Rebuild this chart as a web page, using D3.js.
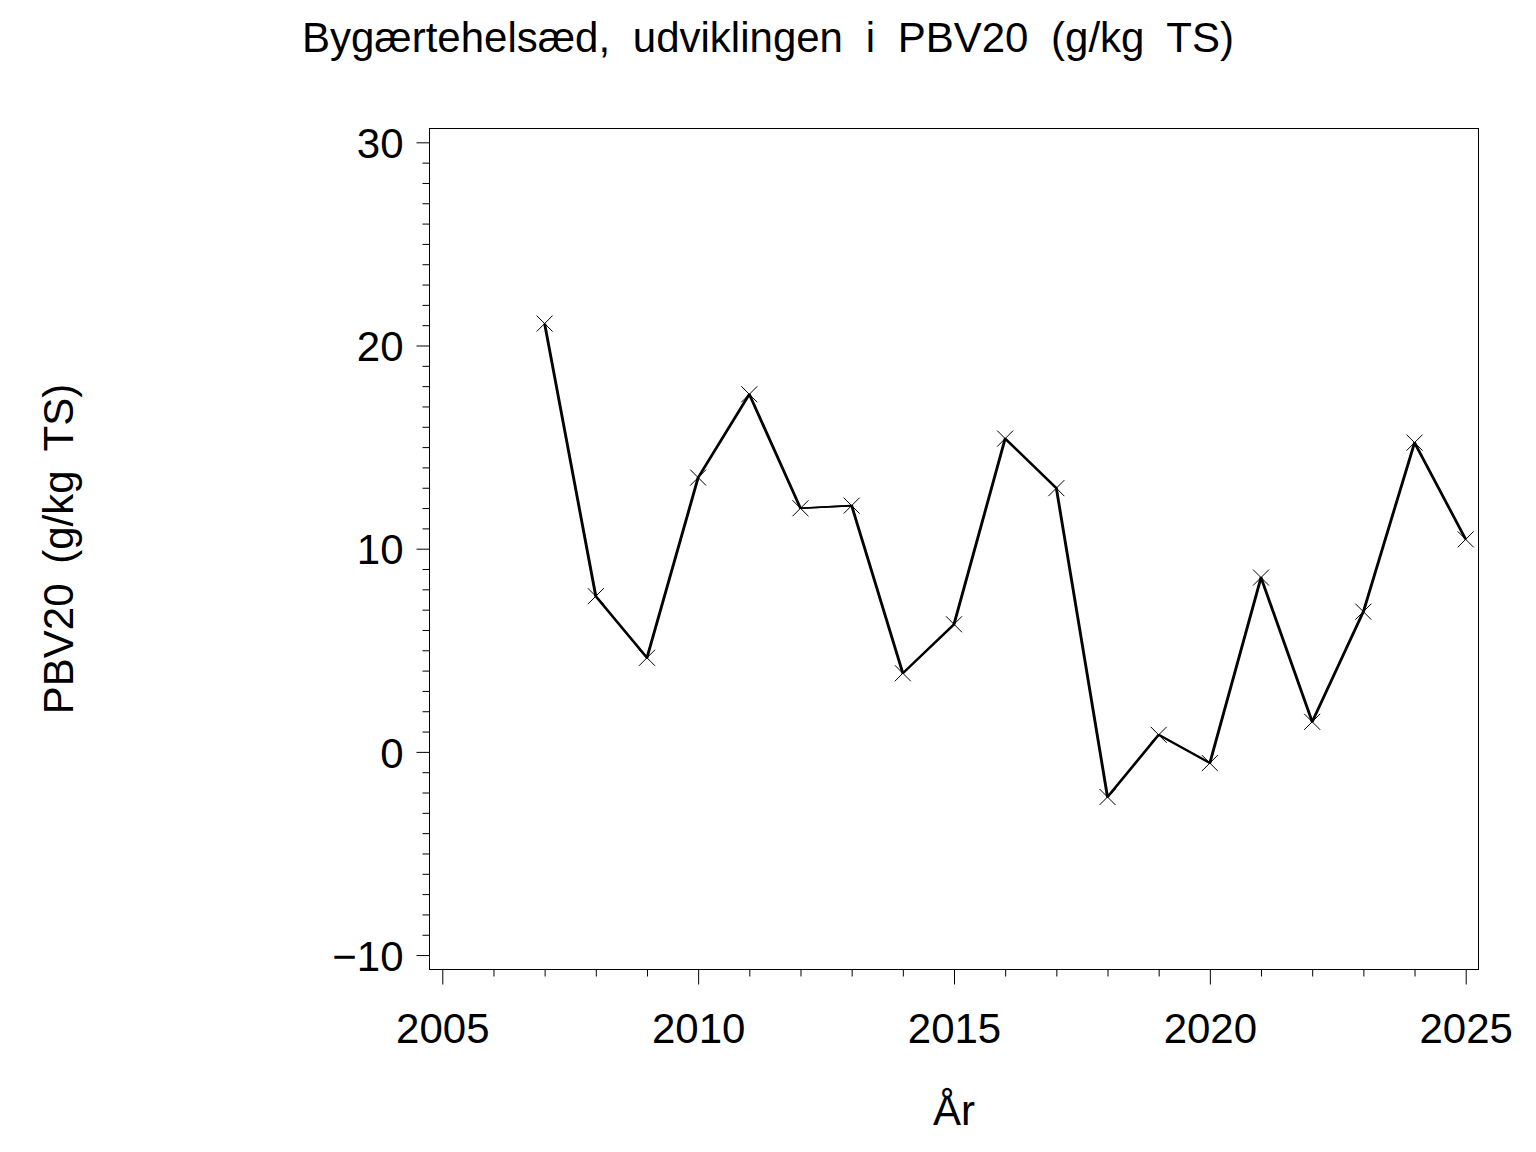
<!DOCTYPE html>
<html>
<head>
<meta charset="utf-8">
<script src="https://cdn.jsdelivr.net/npm/d3@7"></script>
<style>
  html, body { margin: 0; padding: 0; background: #fff; }
  svg { display: block; }
  text { font-family: "Liberation Sans", Arial, Helvetica, sans-serif; fill: #000; }
</style>
</head>
<body>
<script>
// ---- data ----
const years = [2007, 2008, 2009, 2010, 2011, 2012, 2013, 2014, 2015, 2016,
               2017, 2018, 2019, 2020, 2021, 2022, 2023, 2024, 2025];
const pbv20 = [21.08, 7.66, 4.63, 13.5, 17.6, 11.99, 12.12, 3.87, 6.28, 15.42,
               12.98, -2.22, 0.84, -0.55, 8.58, 1.48, 6.9, 15.22, 10.46];
const xMajorTicks = [2005, 2010, 2015, 2020, 2025];
const yMajorTicks = [-10, 0, 10, 20, 30];
const titleText = "Bygærtehelsæd, udviklingen i PBV20 (g/kg TS)";
const xLabel = "År";
const yLabel = "PBV20 (g/kg TS)";

(function () {
// ---- layout ----
const W = 1536, H = 1152;
const pL = 429.5, pR = 1478.5, pT = 128.5, pB = 969.5;

const svg = d3.select("body").append("svg")
  .attr("width", W).attr("height", H);

const x = d3.scaleLinear().domain([2004.75, 2025.25]).range([pL, pR]);
const y = d3.scaleLinear().domain([-10.71, 30.68]).range([pB, pT]);

// frame
svg.append("rect")
  .attr("x", pL).attr("y", pT)
  .attr("width", pR - pL).attr("height", pB - pT)
  .attr("fill", "none").attr("stroke", "#000").attr("stroke-width", 1);

// y axis ticks
const yMinor = d3.range(-10, 31, 1).filter(v => !yMajorTicks.includes(v));
const yAxisMinor = d3.axisLeft(y).tickValues(yMinor).tickSize(7).tickFormat("");
const yAxisMajor = d3.axisLeft(y).tickValues(yMajorTicks).tickSize(13).tickPadding(13)
  .tickFormat(d => d < 0 ? "\u2212" + Math.abs(d) : String(d));
const gyMinor = svg.append("g").attr("transform", `translate(${pL},0)`).call(yAxisMinor);
const gyMajor = svg.append("g").attr("transform", `translate(${pL},0)`).call(yAxisMajor);
[gyMinor, gyMajor].forEach(g => {
  g.select(".domain").remove();
  g.selectAll("line").attr("stroke", "#000").attr("stroke-width", 1);
});
gyMajor.selectAll("text")
  .attr("font-size", 42).attr("dy", "0.36em").attr("x", -26)
  .style("font-family", "'Liberation Sans', Arial, sans-serif");

// x axis ticks
const xMinor = d3.range(2005, 2026, 1).filter(v => !xMajorTicks.includes(v));
const xAxisMinor = d3.axisBottom(x).tickValues(xMinor).tickSize(7).tickFormat("");
const xAxisMajor = d3.axisBottom(x).tickValues(xMajorTicks).tickSize(15).tickFormat(d3.format("d"));
const gxMinor = svg.append("g").attr("transform", `translate(0,${pB})`).call(xAxisMinor);
const gxMajor = svg.append("g").attr("transform", `translate(0,${pB})`).call(xAxisMajor);
[gxMinor, gxMajor].forEach(g => {
  g.select(".domain").remove();
  g.selectAll("line").attr("stroke", "#000").attr("stroke-width", 1);
});
gxMajor.selectAll("text")
  .attr("font-size", 42).attr("y", 73).attr("dy", 0)
  .style("font-family", "'Liberation Sans', Arial, sans-serif");

// line (drawn twice, offset horizontally by 1px to imitate a horizontal pen)
const pts = years.map((yr, i) => [yr, pbv20[i]]);
const line = d3.line().x(d => x(d[0])).y(d => y(d[1]));
[0, 1.2].forEach(off => {
  svg.append("path")
    .datum(pts)
    .attr("transform", `translate(${off - 0.6},0)`)
    .attr("d", line)
    .attr("fill", "none")
    .attr("stroke", "#000")
    .attr("stroke-width", 1.7)
    .attr("stroke-linejoin", "round");
});

// x markers
const m = 8;
const mk = svg.append("g");
pts.forEach(d => {
  const cx = x(d[0]), cy = y(d[1]);
  mk.append("path")
    .attr("d", `M${cx - m},${cy - m}L${cx + m},${cy + m}M${cx - m},${cy + m}L${cx + m},${cy - m}`)
    .attr("stroke", "#000").attr("stroke-width", 1).attr("fill", "none");
});

// title
svg.append("text")
  .attr("x", W / 2).attr("y", 52)
  .attr("text-anchor", "middle")
  .attr("font-size", 42)
  .style("word-spacing", "11px")
  .text(titleText);

// x label
svg.append("text")
  .attr("x", (pL + pR) / 2).attr("y", 1125)
  .attr("text-anchor", "middle")
  .attr("font-size", 42)
  .text(xLabel);

// y label
svg.append("text")
  .attr("transform", `translate(73,${(pT + pB) / 2}) rotate(-90)`)
  .attr("text-anchor", "middle")
  .attr("font-size", 42)
  .style("word-spacing", "8px")
  .text(yLabel);
})();
</script>
</body>
</html>
